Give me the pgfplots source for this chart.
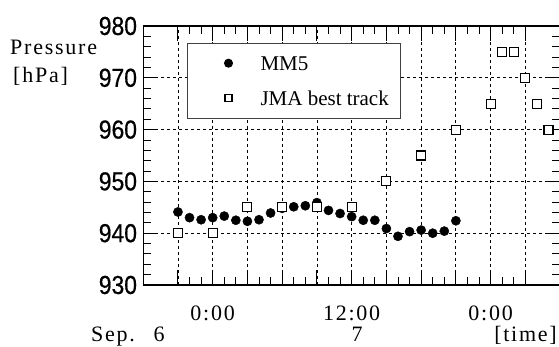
\documentclass[border=0pt]{standalone}
\usepackage{fontspec}
\setmainfont{Liberation Serif}
\newfontfamily\mincho[LetterSpace=8]{Liberation Serif}
\newfontfamily\ticksans[FakeStretch=0.88,FakeBold=0.6]{Liberation Sans}
\usepackage{pgfplots}
\pgfplotsset{compat=1.18}
\pgfplotsset{
  legdot/.style={legend image code/.code={\path (-28.5pt,0pt) (4pt,0pt); \draw[##1, mark size=4pt] plot coordinates {(0pt,0pt)};}},
  legsq/.style={legend image code/.code={\path (-28.5pt,0pt) (4pt,0pt); \draw[##1, mark size=3.5pt] plot coordinates {(0pt,0pt)};}},
}
\begin{document}
\begin{tikzpicture}
\path[use as bounding box] (0pt,0pt) rectangle (559pt,-347pt);
\begin{axis}[
  at={(143.2pt,-285pt)}, anchor=south west,
  scale only axis, width=416.9pt, height=259pt,
  xmin=-6, xmax=30, ymin=930, ymax=980,
  xtick={-3,0,...,27},
  xticklabels={,0:00,,,,12:00,,,,0:00,},
  minor x tick num=2,
  ytick={930,940,...,980},
  minor y tick num=4,
  major tick length=15pt, minor tick length=8pt,
  every tick/.style={line width=0.9pt, black},
  axis line style={line width=1.4pt},
  grid=major,
  major grid style={black, line width=0.8pt, dash pattern=on 3pt off 3pt},
  xticklabel style={font=\mincho\fontsize{22}{22}\selectfont, anchor=base, yshift=-35pt},
  yticklabel style={font=\ticksans\fontsize{26}{26}\selectfont, anchor=east, inner sep=0pt, xshift=-6pt},
  /pgf/number format/assume math mode=true,
  legend style={at={(0.1058,0.9355)}, anchor=north west, draw=black!75, line width=1pt,
    inner xsep=11.7pt, inner ysep=13pt, row sep=21pt, column sep=27.5pt,
    font=\fontsize{21}{21}\selectfont,
    nodes={inner sep=0pt, text height=14pt, text depth=0pt}},
  legend cell align=left,
]
\addplot[only marks, mark=*, mark size=4.6pt, mark options={fill=black, draw=black}, legdot]
  coordinates {
  (-3,944.1) (-2,943.0) (-1,942.6) (0,943.0) (1,943.3) (2,942.5) (3,942.3) (4,942.6)
  (5,943.9) (6,944.8) (7,945.1) (8,945.3) (9,945.9) (10,944.4) (11,943.8) (12,943.2)
  (13,942.5) (14,942.5) (15,940.9) (16,939.4) (17,940.3) (18,940.6) (19,940.0) (20,940.4)
  (21,942.4)};
\addlegendentry{MM5}
\addplot[only marks, mark=square*, mark size=4.5pt, mark options={fill=white, draw=black, line width=1.1pt}, legsq]
  coordinates {
  (-3,940) (0,940) (3,945) (6,945) (9,945) (12,945) (15,950) (18,955) (21,960)
  (24,965) (25,975) (26,975) (27,970) (28,965) (29,960)};
\addlegendentry{JMA best track}
\end{axis}
\begin{scope}[every node/.style={font=\mincho\fontsize{22}{22}\selectfont, inner sep=0pt}]
\node[anchor=base west] at (10pt,-55pt) {Pressure};
\node[anchor=base west] at (13pt,-83pt) {[hPa]};
\node[anchor=base west] at (91pt,-341pt) {Sep.};
\node[anchor=base] at (159pt,-341pt) {6};
\node[anchor=base] at (357pt,-341pt) {7};
\node[anchor=base east] at (557pt,-341pt) {[time]};
\end{scope}
\end{tikzpicture}
\end{document}
